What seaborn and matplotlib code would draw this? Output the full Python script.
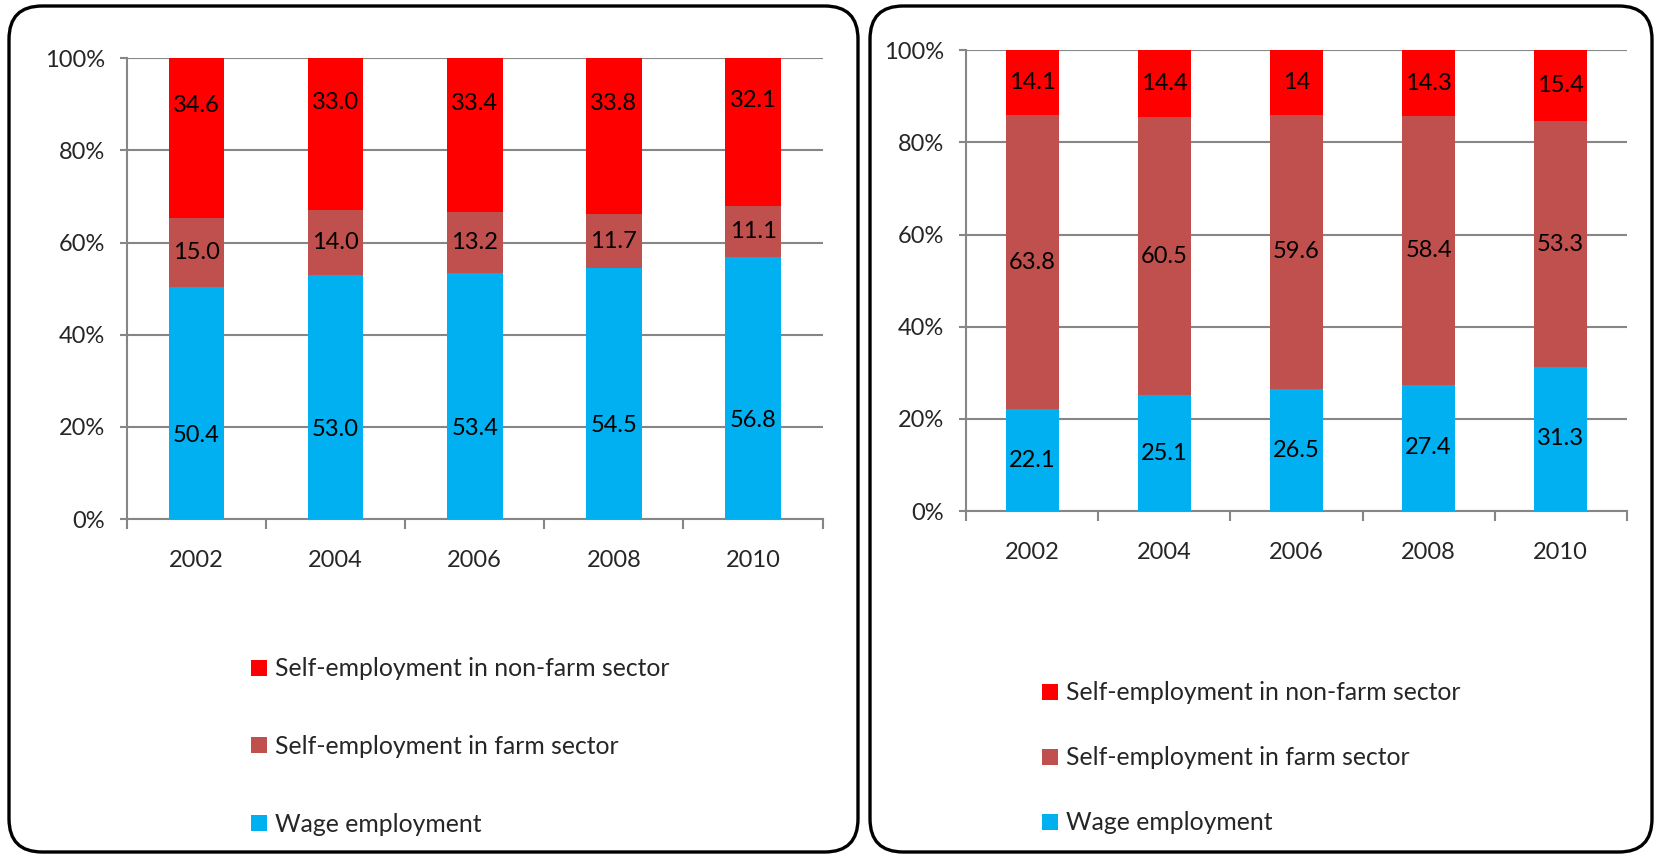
import matplotlib
matplotlib.use("Agg")
import matplotlib.pyplot as plt
import seaborn as sns
import pandas as pd
import numpy as np
from matplotlib.patches import FancyBboxPatch, Patch
from matplotlib.ticker import FixedLocator, FuncFormatter

years = ["2002", "2004", "2006", "2008", "2010"]
series_names = ["Self-employment in non-farm sector",
                "Self-employment in farm sector",
                "Wage employment"]
colors = ["#FF0000", "#C0504D", "#00B0F0"]

# Left panel
left_wage = [50.4, 53.0, 53.4, 54.5, 56.8]
left_farm = [15.0, 14.0, 13.2, 11.7, 11.1]
left_nonfarm = [34.6, 33.0, 33.4, 33.8, 32.1]
left_wage_lbl = ["50.4", "53.0", "53.4", "54.5", "56.8"]
left_farm_lbl = ["15.0", "14.0", "13.2", "11.7", "11.1"]
left_nonfarm_lbl = ["34.6", "33.0", "33.4", "33.8", "32.1"]

# Right panel
right_wage = [22.1, 25.1, 26.5, 27.4, 31.3]
right_farm = [63.8, 60.5, 59.6, 58.4, 53.3]
right_nonfarm = [14.1, 14.4, 14.0, 14.3, 15.4]
right_wage_lbl = ["22.1", "25.1", "26.5", "27.4", "31.3"]
right_farm_lbl = ["63.8", "60.5", "59.6", "58.4", "53.3"]
right_nonfarm_lbl = ["14.1", "14.4", "14", "14.3", "15.4"]

sns.set_theme(style="white")
FONT = ["Lato", "DejaVu Sans"]
plt.rcParams["font.family"] = FONT
FS = 17
LFS = 17.8
GRID = "#868686"

fig = plt.figure(figsize=(16.6, 8.58), dpi=100)


def draw_panel(ax, wage, farm, nonfarm, wlbl, flbl, nlbl, label_shift):
    wage = np.array(wage, float)
    farm = np.array(farm, float)
    nonfarm = np.array(nonfarm, float)
    tot = wage + farm + nonfarm
    w = wage / tot * 100
    f = farm / tot * 100
    n = nonfarm / tot * 100
    df = pd.DataFrame({"year": years, "w": w, "wf": w + f, "all": w + f + n})
    sns.barplot(data=df, x="year", y="all", color=colors[0], width=0.4,
                saturation=1, ax=ax, zorder=3, linewidth=0)
    sns.barplot(data=df, x="year", y="wf", color=colors[1], width=0.4,
                saturation=1, ax=ax, zorder=3, linewidth=0)
    sns.barplot(data=df, x="year", y="w", color=colors[2], width=0.4,
                saturation=1, ax=ax, zorder=3, linewidth=0)
    for i in range(len(years)):
        ax.text(i, w[i] / 2 - label_shift, wlbl[i], ha="center", va="center",
                fontsize=FS, color="black", zorder=5)
        ax.text(i, w[i] + f[i] / 2, flbl[i], ha="center", va="center",
                fontsize=FS, color="black", zorder=5)
        ax.text(i, w[i] + f[i] + n[i] / 2 + label_shift, nlbl[i], ha="center",
                va="center", fontsize=FS, color="black", zorder=5)
    ax.set_xlim(-0.5, len(years) - 0.5)
    ax.set_ylim(0, 100)
    ax.set_yticks(np.arange(0, 101, 20))
    ax.yaxis.set_major_formatter(FuncFormatter(lambda v, p: f"{int(v)}%"))
    ax.grid(axis="y", color=GRID, linewidth=1.5, zorder=0)
    ax.set_axisbelow(True)
    ax.set_xlabel("")
    ax.set_ylabel("")
    for s in ["top", "right"]:
        ax.spines[s].set_visible(False)
    for s in ["left", "bottom"]:
        ax.spines[s].set_color(GRID)
        ax.spines[s].set_linewidth(1.5)
    ax.xaxis.set_minor_locator(FixedLocator(np.arange(-0.5, len(years), 1.0)))
    ax.tick_params(axis="x", which="major", length=0, pad=22, labelsize=FS)
    ax.tick_params(axis="x", which="minor", bottom=True, length=7, width=1.5,
                   color=GRID, direction="out")
    ax.tick_params(axis="y", which="major", left=True, length=5, width=1.5,
                   color=GRID, pad=11, labelsize=FS, direction="out")


axL = fig.add_axes([0.0765, 0.395, 0.419, 0.537])
draw_panel(axL, left_wage, left_farm, left_nonfarm,
           left_wage_lbl, left_farm_lbl, left_nonfarm_lbl, 7)

axR = fig.add_axes([0.582, 0.4044, 0.398, 0.537])
draw_panel(axR, right_wage, right_farm, right_nonfarm,
           right_wage_lbl, right_farm_lbl, right_nonfarm_lbl, 0)

handles = [Patch(facecolor=c, edgecolor="none") for c in colors]
fig.legend(handles, series_names, loc="upper left",
           bbox_to_anchor=(229 / 1660, 1 - 635 / 858), frameon=False,
           fontsize=LFS, handlelength=0.62, handleheight=0.62, handletextpad=0.35,
           labelspacing=2.22)
fig.legend(handles, series_names, loc="upper left",
           bbox_to_anchor=(1020 / 1660, 1 - 659 / 858), frameon=False,
           fontsize=LFS, handlelength=0.62, handleheight=0.62, handletextpad=0.35,
           labelspacing=1.7)

# Rounded panel borders
W, H = 1660, 858
for (x0, x1) in [(9, 858), (870, 1652)]:
    box = FancyBboxPatch((x0 / W, 6 / H), (x1 - x0) / W, (852 - 6) / H,
                         boxstyle="round,pad=0,rounding_size=0.02",
                         transform=fig.transFigure, fill=False,
                         edgecolor="black", linewidth=2.4,
                         mutation_aspect=W / H)
    fig.patches.append(box)

fig.savefig("out.png", dpi=100, facecolor="white")
